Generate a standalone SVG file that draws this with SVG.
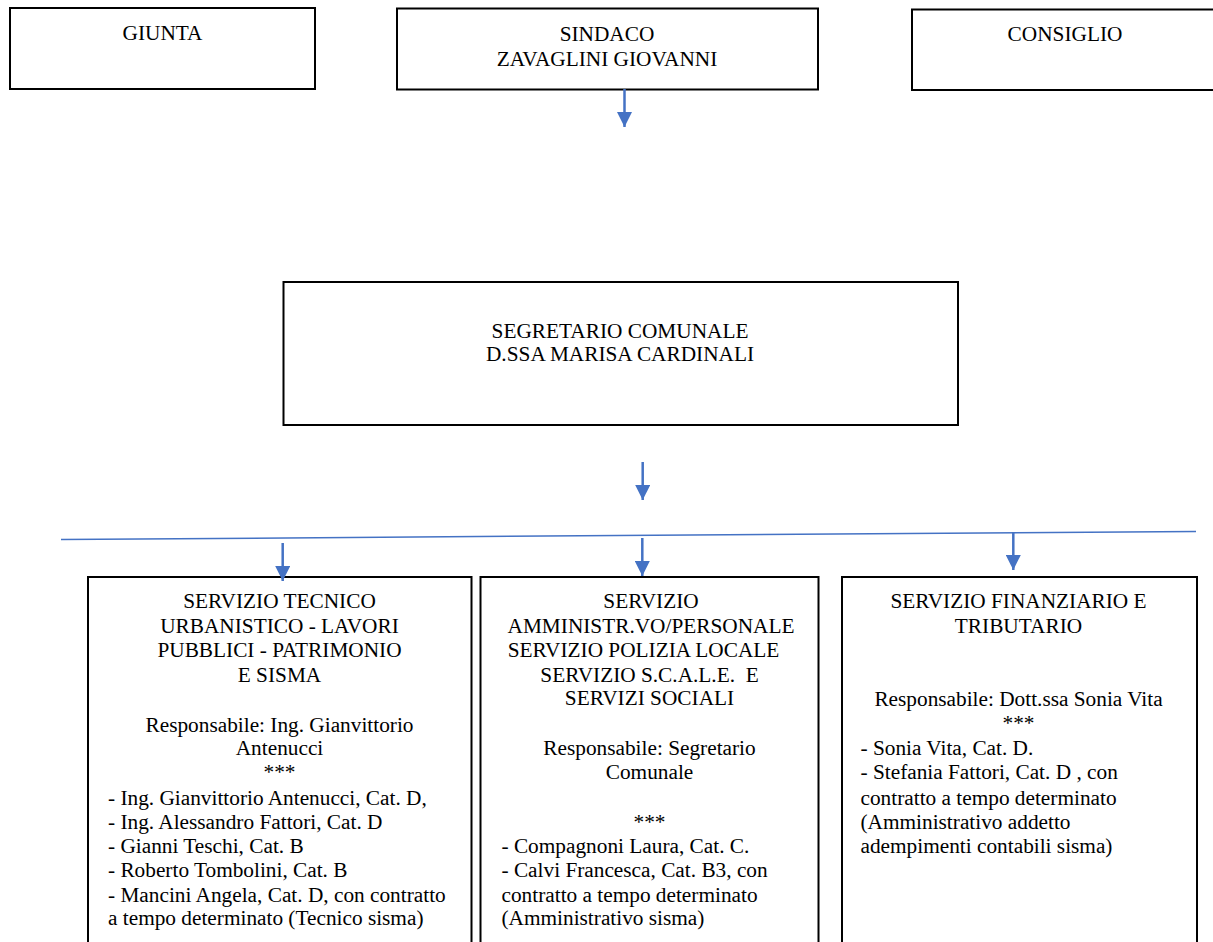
<svg xmlns="http://www.w3.org/2000/svg" width="1213" height="942" viewBox="0 0 1213 942">
<style>
.box{fill:#fff;stroke:#000;stroke-width:2}
.t{font-family:"Liberation Serif","Times New Roman",serif;font-size:21.3px;fill:#000;white-space:pre}
.c{text-anchor:middle}
.conn{stroke:#4472C4;stroke-width:2.5;fill:none}
.hline{stroke:#4472C4;stroke-width:1.5;fill:none}
</style>
<defs>
<marker id="ah" viewBox="0 0 15 15" refX="15" refY="7.5" markerWidth="15" markerHeight="15" markerUnits="userSpaceOnUse" orient="auto">
<path d="M0,0 L15,7.5 L0,15 z" fill="#4472C4"/>
</marker>
</defs>
<rect width="1213" height="942" fill="#fff"/>

<g id="giunta">
<rect class="box" x="10" y="8" width="305" height="81"/>
<text class="t c" x="162.5" y="40">GIUNTA</text>
</g>

<g id="sindaco">
<rect class="box" x="397" y="8.5" width="421" height="81"/>
<text class="t c" x="607" y="41">SINDACO</text>
<text class="t c" x="607" y="65.5">ZAVAGLINI GIOVANNI</text>
</g>

<g id="consiglio">
<rect class="box" x="912" y="9.5" width="310" height="80.5"/>
<text class="t c" x="1065" y="41">CONSIGLIO</text>
</g>

<g id="segretario">
<rect class="box" x="283.5" y="282" width="674.5" height="143"/>
<text class="t c" x="620" y="338">SEGRETARIO COMUNALE</text>
<text class="t c" x="620" y="361">D.SSA MARISA CARDINALI</text>
</g>

<g id="servizio-tecnico">
<rect class="box" x="88" y="577" width="383.5" height="380"/>
<text class="t c" x="279.5" y="608">SERVIZIO TECNICO</text>
<text class="t c" x="279.5" y="633">URBANISTICO - LAVORI</text>
<text class="t c" x="279.5" y="657">PUBBLICI - PATRIMONIO</text>
<text class="t c" x="279.5" y="682">E SISMA</text>
<text class="t c" x="279.5" y="731.5">Responsabile: Ing. Gianvittorio</text>
<text class="t c" x="279.5" y="755">Antenucci</text>
<text class="t c" x="279.5" y="778.5">***</text>
<text class="t" x="108" y="805">- Ing. Gianvittorio Antenucci, Cat. D,</text>
<text class="t" x="108" y="828.5">- Ing. Alessandro Fattori, Cat. D</text>
<text class="t" x="108" y="853">- Gianni Teschi, Cat. B</text>
<text class="t" x="108" y="877">- Roberto Tombolini, Cat. B</text>
<text class="t" x="108" y="901.5">- Mancini Angela, Cat. D, con contratto</text>
<text class="t" x="108" y="925">a tempo determinato (Tecnico sisma)</text>
</g>

<g id="servizio-amministrativo">
<rect class="box" x="480.5" y="577" width="338" height="380"/>
<text class="t c" x="651" y="608">SERVIZIO</text>
<text class="t c" x="651" y="633">AMMINISTR.VO/PERSONALE</text>
<text class="t c" x="643.5" y="657">SERVIZIO POLIZIA LOCALE</text>
<text class="t c" x="649.5" y="682">SERVIZIO S.C.A.L.E.  E</text>
<text class="t c" x="649.5" y="705">SERVIZI SOCIALI</text>
<text class="t c" x="649.5" y="755">Responsabile: Segretario</text>
<text class="t c" x="649.5" y="779">Comunale</text>
<text class="t c" x="649.5" y="829">***</text>
<text class="t" x="501.5" y="853">- Compagnoni Laura, Cat. C.</text>
<text class="t" x="501.5" y="877">- Calvi Francesca, Cat. B3, con</text>
<text class="t" x="501.5" y="901.5">contratto a tempo determinato</text>
<text class="t" x="501.5" y="925">(Amministrativo sisma)</text>
</g>

<g id="servizio-finanziario">
<rect class="box" x="842" y="577" width="355" height="380"/>
<text class="t c" x="1018.5" y="608">SERVIZIO FINANZIARIO E</text>
<text class="t c" x="1018.5" y="633">TRIBUTARIO</text>
<text class="t c" x="1018.5" y="706">Responsabile: Dott.ssa Sonia Vita</text>
<text class="t c" x="1018.5" y="729.5">***</text>
<text class="t" x="860.5" y="755">- Sonia Vita, Cat. D.</text>
<text class="t" x="860.5" y="779">- Stefania Fattori, Cat. D , con</text>
<text class="t" x="860.5" y="805">contratto a tempo determinato</text>
<text class="t" x="860.5" y="828.5">(Amministrativo addetto</text>
<text class="t" x="860.5" y="853">adempimenti contabili sisma)</text>
</g>

<g id="connectors">
<line class="hline" x1="61" y1="539.5" x2="1196" y2="531.5"/>
<path class="conn" d="M624.5,89 V127" marker-end="url(#ah)"/>
<path class="conn" d="M642.7,462 V500" marker-end="url(#ah)"/>
<path class="conn" d="M282.7,543 V581" marker-end="url(#ah)"/>
<path class="conn" d="M642.3,538 V576" marker-end="url(#ah)"/>
<path class="conn" d="M1013.3,532 V570" marker-end="url(#ah)"/>
</g>
</svg>
